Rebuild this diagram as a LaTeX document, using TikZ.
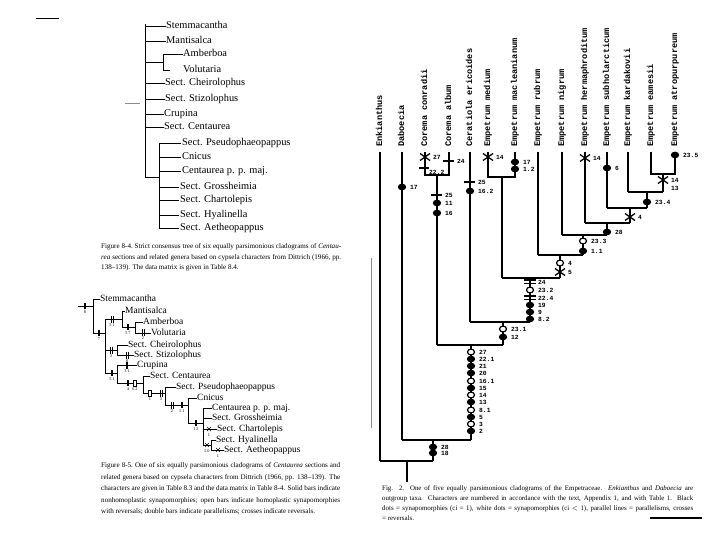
\documentclass[tikz,border=0pt]{standalone}
\usepackage{fontspec}
\setmainfont{Liberation Serif}
\newfontfamily\monof{Liberation Mono}
\newfontfamily\sansf{Liberation Sans}
\newcounter{lc}
% right-tree markers
\newcommand\mylab[3]{\stepcounter{lc}\node[num] (lab\thelc) at (#1,#2) {#3};}
\newcommand\mydot[3]{\fill (#1,#2) ellipse [x radius=4.2pt, y radius=3.4pt];\mylab{#1+8}{#2}{#3}}
\newcommand\mywdot[3]{\filldraw[fill=white, line width=1.2pt] (#1,#2) ellipse [x radius=3.5pt, y radius=2.9pt];\mylab{#1+8}{#2}{#3}}
\newcommand\mybar[3]{\fill (#1-6,#2-1.4) rectangle (#1+5,#2+1.4);\mylab{#1+8}{#2}{#3}}
\newcommand\mydbar[3]{\fill (#1-6,#2-2.6) rectangle (#1+6,#2-1.3);\fill (#1-6,#2+0.6) rectangle (#1+6,#2+1.9);\mylab{#1+8}{#2}{#3}}
\newcommand\mycross[3]{\draw[line width=1.3pt] (#1-5,#2-3.5) -- (#1+5,#2+3.5) (#1-5,#2+3.5) -- (#1+5,#2-3.5);\mylab{#1+8}{#2}{#3}}
% left-tree small markers
\newcommand\slab[3]{\stepcounter{lc}\node[snum] (lab\thelc) at (#1,#2) {#3};}
\newcommand\sbar[3]{\fill (#1-1.4,#2-3.2) rectangle (#1+1.4,#2+3.2);\slab{#1}{#2+6}{#3}}
\newcommand\sobar[3]{\draw[line width=.5pt,fill=white] (#1-1.4,#2-3.2) rectangle (#1+1.4,#2+3.2);\slab{#1}{#2+6}{#3}}
\newcommand\sdbar[3]{\draw[line width=.6pt] (#1-1,#2-3.5) -- (#1-1,#2+3.5) (#1+1,#2-3.5) -- (#1+1,#2+3.5);\slab{#1}{#2+6.5}{#3}}
\newcommand\sx[3]{\draw[line width=.6pt] (#1-2,#2-2) -- (#1+2,#2+2) (#1-2,#2+2) -- (#1+2,#2-2);\slab{#1}{#2+6}{#3}}
\newcommand\jl[2]{\makebox[#1][s]{#2}}
\begin{document}
\begin{tikzpicture}[x=1pt,y=-1pt,
  taxon/.style={font=\fontsize{10.4}{11}\selectfont, anchor=west, inner sep=0pt, text height=6.5pt, text depth=2pt},
  btaxon/.style={font=\fontsize{9.5}{10}\selectfont, anchor=west, inner sep=0pt, text height=6pt, text depth=2pt},
  vlab/.style={font=\monof\bfseries\fontsize{8.6}{9}\selectfont, rotate=90, anchor=west, inner sep=0pt, text height=5.5pt, text depth=1.5pt},
  num/.style={font=\monof\bfseries\fontsize{6.3}{7}\selectfont, anchor=west, inner sep=0pt},
  snum/.style={font=\fontsize{4.3}{5}\selectfont, inner sep=0pt},
  captxt/.style={font=\fontsize{7.1}{8}\selectfont, anchor=base west, inner sep=0pt},
  rcaptxt/.style={font=\fontsize{6.9}{8}\selectfont, anchor=base west, inner sep=0pt},
  thinl/.style={line width=0.6pt},
  thickl/.style={line width=1.7pt},
  scan/.style={line width=0.5pt, black!45},
]
\useasboundingbox (0,0) rectangle (720,540);

% scan artefacts
\draw[line width=0.9pt] (36,18) -- (59,18);
\draw[scan] (125,103) -- (140,103);
\draw[scan] (371,258) -- (371,428);
\draw[line width=1.2pt] (650,518) -- (702,518);

%================ top-left tree (Fig. 8-4) ================
\node[taxon] (t1) at (166,26) {Stemmacantha};
\node[taxon] (t2) at (166,41) {Mantisalca};
\node[taxon] (t3) at (183,54) {Amberboa};
\node[taxon] (t4) at (183,70) {Volutaria};
\node[taxon] (t5) at (165,83) {Sect. Cheirolophus};
\node[taxon] (t6) at (165,99) {Sect. Stizolophus};
\node[taxon] (t7) at (164,114) {Crupina};
\node[taxon] (t8) at (164,127) {Sect. Centaurea};
\node[taxon] (t9) at (182,143) {Sect. Pseudophaeopappus};
\node[taxon] (t10) at (182,157) {Cnicus};
\node[taxon] (t11) at (182,171) {Centaurea p. p. maj.};
\node[taxon] (t12) at (180,187) {Sect. Grossheimia};
\node[taxon] (t13) at (180,200) {Sect. Chartolepis};
\node[taxon] (t14) at (180,215) {Sect. Hyalinella};
\node[taxon] (t15) at (180,228) {Sect. Aetheopappus};
\begin{scope}[thinl]
\draw (145,24) -- (145,177) -- (159,177);
\foreach \n/\y in {t1/26,t2/41,t5/83,t6/99,t7/114,t8/127}{\draw (145,\y) -- (\n.west);}
\draw (145,62) -- (163,62);
\draw (163,54) -- (163,70);
\draw (163,54) -- (t3.west); \draw (163,70) -- (170,70);
\draw (159,143) -- (159,228);
\foreach \n/\y in {t9/143,t10/157,t11/171,t12/187,t13/200,t14/215,t15/228}{\draw (159,\y) -- ([xshift=-1pt]\n.west);}
\end{scope}

\node[captxt] (c1) at (101,248.5) {\jl{240pt}{\textsc{Figure 8-4.}\ Strict consensus tree of six equally parsimonious cladograms of \textit{Centau-}}};
\node[captxt] (c2) at (101,259) {\jl{240pt}{\textit{rea} sections and related genera based on cypsela characters from Dittrich (1966, pp.}};
\node[captxt] (c3) at (101,269.5) {138--139). The data matrix is given in Table 8.4.};

%================ bottom-left tree (Fig. 8-5) ================
\node[btaxon] (b1) at (100,299) {Stemmacantha};
\node[btaxon] (b2) at (125,311) {Mantisalca};
\node[btaxon] (b3) at (143,322) {Amberboa};
\node[btaxon] (b4) at (151,333) {Volutaria};
\node[btaxon] (b5) at (128,345) {Sect. Cheirolophus};
\node[btaxon] (b6) at (134,355) {Sect. Stizolophus};
\node[btaxon] (b7) at (137,365.5) {Crupina};
\node[btaxon] (b8) at (150,376) {Sect. Centaurea};
\node[btaxon] (b9) at (176,387) {Sect. Pseudophaeopappus};
\node[btaxon] (b10) at (197,398) {Cnicus};
\node[btaxon] (b11) at (212,408) {Centaurea p. p. maj.};
\node[btaxon] (b12) at (212,418.5) {Sect. Grossheimia};
\node[btaxon] (b13) at (217,429) {Sect. Chartolepis};
\node[btaxon] (b14) at (216,440) {Sect. Hyalinella};
\node[btaxon] (b15) at (224,450) {Sect. Aetheopappus};
\begin{scope}[thinl]
\draw (78,306) -- (93,306);
\draw (93,299) -- (93,333);
\draw (93,299) -- (b1.west);
\draw (93,333) -- (105,333);
\draw (105,319) -- (105,373);
\draw (105,319) -- (122,319);
\draw (122,311) -- (122,327);
\draw (122,311) -- (b2.west);
\draw (122,327) -- (135,327);
\draw (135,322) -- (135,333);
\draw (135,322) -- (b3.west);
\draw (135,333) -- (b4.west);
\draw (105,350) -- (117,350);
\draw (117,345) -- (117,355);
\draw (117,345) -- (b5.west);
\draw (117,355) -- (b6.west);
\draw (105,373) -- (117,373);
\draw (117,365.5) -- (117,383);
\draw (117,365.5) -- (b7.west);
\draw (117,383) -- (143,383);
\draw (143,376) -- (143,393);
\draw (143,376) -- (b8.west);
\draw (143,393) -- (165,393);
\draw (165,387) -- (165,405);
\draw (165,387) -- (b9.west);
\draw (165,405) -- (188,405);
\draw (188,398) -- (188,423);
\draw (188,398) -- (b10.west);
\draw (188,423) -- (203,423);
\draw (203,408) -- (203,445);
\draw (203,408) -- (b11.west);
\draw (203,418.5) -- (b12.west);
\draw (203,429) -- (b13.west);
\draw (203,445) -- (211,445);
\draw (211,440) -- (211,450);
\draw (211,440) -- (b14.west);
\draw (211,450) -- (b15.west);
\end{scope}
\sbar{85}{306}{8}
\sbar{99}{333}{7}
\sdbar{112}{319}{5\,1}
\sbar{128}{327}{5\,7}
\sdbar{143}{332}{2}
\sdbar{111}{350}{3}
\sdbar{127}{355}{8}
\sbar{112}{373}{5\,1}
\sbar{127}{365.5}{3\,1}
\sbar{128}{383}{4}
\sobar{135}{383}{6\,2}
\sobar{150}{393}{1}
\sdbar{161}{393}{3}
\sdbar{172}{405}{2}
\sbar{182}{405}{5\,1}
\sbar{196}{423}{1\,2}
\sx{209}{429}{1}
\sx{207}{445}{5\,0}
\sx{218}{450}{1}

\node[captxt] (c4) at (101,467.5) {\jl{239pt}{\textsc{Figure 8-5.}\ One of six equally parsimonious cladograms of \textit{Centaurea} sections and}};
\node[captxt] (c5) at (101,479) {\jl{239pt}{related genera based on cypsela characters from Dittrich (1966, pp. 138--139). The}};
\node[captxt] (c6) at (101,490.5) {\jl{239pt}{characters are given in Table 8.3 and the data matrix in Table 8-4. Solid bars indicate}};
\node[captxt] (c7) at (101,502) {\jl{239pt}{nonhomoplastic synapomorphies; open bars indicate homoplastic synapomorphies}};
\node[captxt] (c8) at (101,513.5) {with reversals; double bars indicate parallelisms; crosses indicate reversals.};

%================ right tree (Fig. 2) ================
\foreach \n/\x/\t in {r1/380/Enkianthus, r2/402/Daboecia, r3/425/Corema conradii, r4/449/Corema album,
  r5/470/Ceratiola ericoides, r6/488/Empetrum medium, r7/515/Empetrum macleanianum, r8/538/Empetrum rubrum,
  r9/562/Empetrum nigrum, r10/585/Empetrum hermaphroditum, r11/607/Empetrum subholarcticum,
  r12/628/Empetrum kardakovii, r13/651/Empetrum eamesii, r14/675/Empetrum atropurpureum}
  {\node[vlab] (\n) at (\x,147) {\t};}
\begin{scope}[thickl]
\draw (380,152) -- (380,461);
\draw (402,152) -- (402,440);
\draw (425,152) -- (425,175) -- (449,175) -- (449,152);
\draw (437,175) -- (437,345);
\draw (470,152) -- (470,322);
\draw (488,152) -- (488,177) -- (515,177) -- (515,152);
\draw (502,177) -- (502,278);
\draw (538,152) -- (538,255);
\draw (562,152) -- (562,235);
\draw (585,152) -- (585,223);
\draw (607,152) -- (607,208);
\draw (628,152) -- (628,192);
\draw (651,152) -- (651,174) -- (675,174) -- (675,152);
\draw (663,174) -- (663,192);
\draw (628,192) -- (663,192);
\draw (647,192) -- (647,208);
\draw (607,208) -- (647,208);
\draw (630,208) -- (630,223);
\draw (585,223) -- (630,223);
\draw (607,223) -- (607,235);
\draw (562,235) -- (607,235);
\draw (583,235) -- (583,255);
\draw (538,255) -- (583,255);
\draw (560,255) -- (560,278);
\draw (502,278) -- (560,278);
\draw (530,278) -- (530,322);
\draw (470,322) -- (530,322);
\draw (503,322) -- (503,345);
\draw (437,345) -- (503,345);
\draw (471,345) -- (471,440);
\draw (402,440) -- (471,440);
\draw (433,440) -- (433,461);
\draw (380,461) -- (433,461);
\draw (407,461) -- (407,482);
\end{scope}
% characters
\mycross{425}{157}{27}
\fill (419,166.6) rectangle (429,169.4); \mylab{429}{172}{22.2}
\mybar{449}{161}{24}
\mybar{437}{195}{25}
\mydot{437}{203}{11}
\mydot{437}{213}{16}
\mydot{402}{187}{17}
\mybar{470}{182}{25}
\mydot{470}{191}{16.2}
\mycross{488}{157}{14}
\mydot{515}{162}{17}
\mydot{515}{169}{1.2}
\mycross{585}{158}{14}
\mydot{607}{168}{6}
\mydot{675}{155}{23.5}
\mycross{663}{180}{14}
\mylab{671}{188}{13}
\mydot{647}{202}{23.4}
\mycross{630}{217}{4}
\mydot{607}{232}{28}
\mywdot{583}{241}{23.3}
\mydot{583}{251}{1.1}
\mywdot{560}{263}{4}
\mycross{560}{272}{5}
\mydbar{530}{282}{24}
\mywdot{530}{290}{23.2}
\mydbar{530}{298}{22.4}
\mydot{530}{305}{19}
\mydot{530}{312}{9}
\mydot{530}{319}{8.2}
\mywdot{503}{329}{23.1}
\mydot{503}{337}{12}
\mywdot{471}{352}{27}
\mydot{471}{359}{22.1}
\mydot{471}{366}{21}
\mydot{471}{373}{20}
\mywdot{471}{381}{16.1}
\mydot{471}{388}{15}
\mywdot{471}{395}{14}
\mydot{471}{402}{13}
\mywdot{471}{410}{8.1}
\mydot{471}{417}{5}
\mywdot{471}{424}{3}
\mydot{471}{431}{2}
\mydot{433}{447}{28}
\mydot{433}{453}{18}

\node[rcaptxt] (c9) at (382,490) {\jl{311pt}{\textsc{Fig.} 2.\ \ One of five equally parsimonious cladograms of the Empetraceae. \textit{Enkianthus} and \textit{Daboecia} are}};
\node[rcaptxt] (c10) at (382,500) {\jl{311pt}{outgroup taxa. Characters are numbered in accordance with the text, Appendix 1, and with Table 1. Black}};
\node[rcaptxt] (c11) at (382,510) {\jl{311pt}{dots = synapomorphies (ci = 1), white dots = synapomorphies (ci $<$ 1), parallel lines = parallelisms, crosses}};
\node[rcaptxt] (c12) at (382,520) {= reversals.};
\end{tikzpicture}
\end{document}
